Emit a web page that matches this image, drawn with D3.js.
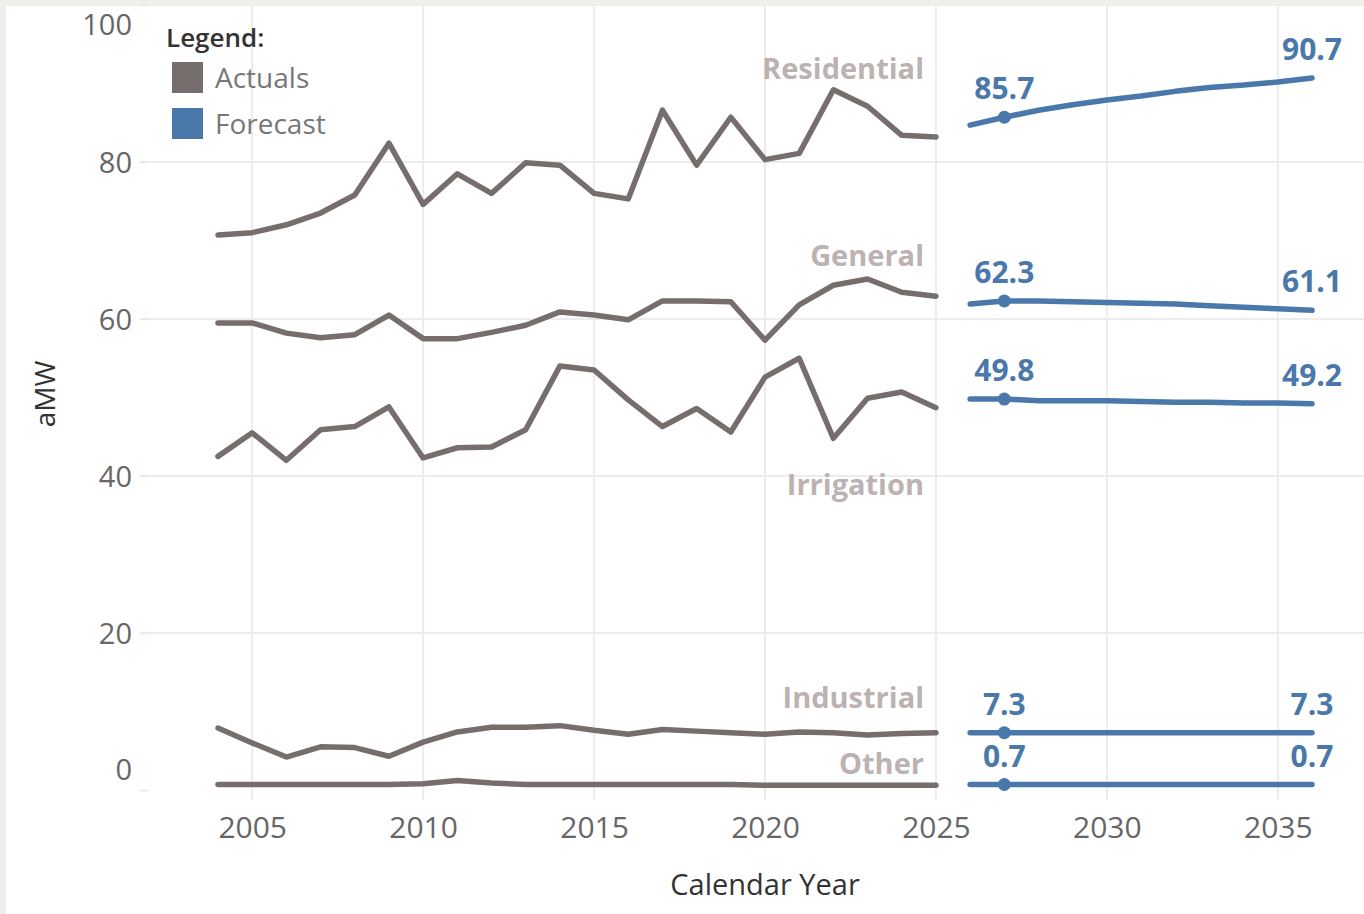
<!DOCTYPE html>
<html>
<head>
<meta charset="utf-8">
<script src="https://cdn.jsdelivr.net/npm/d3@7/dist/d3.min.js"></script>
<style>
  html, body { margin: 0; padding: 0; background: #efefeb; }
  svg { display: block; }
  text { font-family: "Open Sans", "Noto Sans", sans-serif; }
</style>
</head>
<body>
<svg id="chart" width="1364" height="914"></svg>
<script>
// ---- data ----
const actualYears = [2004,2005,2006,2007,2008,2009,2010,2011,2012,2013,2014,2015,2016,2017,2018,2019,2020,2021,2022,2023,2024,2025];
const forecastYears = [2026,2027,2028,2029,2030,2031,2032,2033,2034,2035,2036];

const categories = ["Residential","General","Irrigation","Industrial","Other"];

const residentialActual = [70.7,71.0,72.0,73.5,75.8,82.4,74.6,78.5,76.0,79.9,79.6,76.0,75.3,86.6,79.6,85.7,80.3,81.1,89.2,87.1,83.4,83.2];
const generalActual     = [59.5,59.5,58.2,57.6,58.0,60.5,57.5,57.5,58.3,59.2,60.9,60.5,59.9,62.3,62.3,62.2,57.3,61.8,64.3,65.1,63.4,62.9];
const irrigationActual  = [42.5,45.5,42.0,45.9,46.3,48.8,42.3,43.6,43.7,45.9,54.0,53.5,49.7,46.3,48.6,45.6,52.6,55.0,44.8,49.9,50.7,48.7];
const industrialActual  = [7.9,6.0,4.2,5.5,5.4,4.3,6.1,7.4,8.0,8.0,8.2,7.6,7.1,7.7,7.5,7.3,7.1,7.4,7.3,7.0,7.2,7.3];
const otherActual       = [0.7,0.7,0.7,0.7,0.7,0.7,0.8,1.2,0.9,0.7,0.7,0.7,0.7,0.7,0.7,0.7,0.6,0.6,0.6,0.6,0.6,0.6];

const residentialForecast = [84.7,85.7,86.6,87.3,87.9,88.4,89.0,89.5,89.8,90.2,90.7];
const generalForecast     = [61.9,62.3,62.3,62.2,62.1,62.0,61.9,61.7,61.5,61.3,61.1];
const irrigationForecast  = [49.8,49.8,49.6,49.6,49.6,49.5,49.4,49.4,49.3,49.3,49.2];
const industrialForecast  = [7.3,7.3,7.3,7.3,7.3,7.3,7.3,7.3,7.3,7.3,7.3];
const otherForecast       = [0.7,0.7,0.7,0.7,0.7,0.7,0.7,0.7,0.7,0.7,0.7];

// where each category name label sits (value on the y axis)
const categoryLabelValue = [91.9, 68.0, 38.9, 11.8, 3.3];

const yTicks = [0,20,40,60,80,100];
const xTicks = [2005,2010,2015,2020,2025,2030,2035];
const labelYears = [2027, 2036];
const legendItems = ["Actuals","Forecast"];

// ---- build ----
const actualSeries = [residentialActual, generalActual, irrigationActual, industrialActual, otherActual];
const forecastSeries = [residentialForecast, generalForecast, irrigationForecast, industrialForecast, otherForecast];

const colActual = "#766e6c";
const colForecast = "#4a78aa";
const colGrid = "#ececec";

const svg = d3.select("#chart");
const W = 1364, H = 914;

svg.append("rect").attr("x",0).attr("y",0).attr("width",W).attr("height",H).attr("fill","#efefeb");
svg.append("rect").attr("x",6).attr("y",6).attr("width",W-6).attr("height",H-6).attr("fill","#ffffff");

const x = d3.scaleLinear().domain([2004, 2036]).range([218, 1312]);
const y = d3.scaleLinear().domain([0, 100]).range([790, 5]);

// vertical gridlines
svg.append("g").selectAll("line").data(xTicks).join("line")
  .attr("x1", d => x(d)).attr("x2", d => x(d))
  .attr("y1", 6).attr("y2", 800)
  .attr("stroke", colGrid).attr("stroke-width", 2);

// horizontal gridlines
svg.append("g").selectAll("line").data(yTicks.filter(d => d > 0 && d < 100)).join("line")
  .attr("x1", 140).attr("x2", W)
  .attr("y1", d => y(d)).attr("y2", d => y(d))
  .attr("stroke", colGrid).attr("stroke-width", 2);

// y axis
const yAxis = svg.append("g").attr("transform", "translate(148,0)")
  .call(d3.axisLeft(y).tickValues(yTicks).tickSize(8).tickPadding(8));
yAxis.select(".domain").remove();
yAxis.selectAll(".tick line").attr("stroke", "#e6e6e6").attr("stroke-width", 1.5);
yAxis.selectAll(".tick text")
  .attr("fill", "#666")
  .style("font-size", "29px")
  .attr("dy", d => d === 100 ? "1.0em" : d === 0 ? "-0.35em" : "0.35em");

// x axis
const xAxis = svg.append("g").attr("transform", "translate(0,800)")
  .call(d3.axisBottom(x).tickValues(xTicks).tickFormat(d3.format("d")).tickSize(0).tickPadding(17));
xAxis.select(".domain").remove();
xAxis.selectAll(".tick text").attr("fill", "#666").style("font-size", "30px");

// axis titles
svg.append("text").attr("x", 765).attr("y", 895).attr("text-anchor", "middle")
  .attr("fill", "#333").style("font-size", "29px").text("Calendar Year");
svg.append("text").attr("transform", "translate(55,394) rotate(-90)").attr("text-anchor", "middle")
  .attr("fill", "#333").style("font-size", "28px").text("aMW");

// lines
const line = d3.line().x(d => x(d[0])).y(d => y(d[1]));

actualSeries.forEach(vals => {
  svg.append("path")
    .datum(actualYears.map((yr, i) => [yr, vals[i]]))
    .attr("d", line).attr("fill", "none")
    .attr("stroke", colActual).attr("stroke-width", 5.5)
    .attr("stroke-linejoin", "round").attr("stroke-linecap", "round");
});

forecastSeries.forEach(vals => {
  const pts = forecastYears.map((yr, i) => [yr, vals[i]]);
  svg.append("path")
    .datum(pts)
    .attr("d", line).attr("fill", "none")
    .attr("stroke", colForecast).attr("stroke-width", 5.5)
    .attr("stroke-linejoin", "round").attr("stroke-linecap", "round");
  const p = pts[forecastYears.indexOf(2027)];
  svg.append("circle").attr("cx", x(p[0])).attr("cy", y(p[1])).attr("r", 6.5).attr("fill", colForecast);
  labelYears.forEach(ly => {
    const q = pts[forecastYears.indexOf(ly)];
    svg.append("text")
      .attr("x", x(q[0])).attr("y", y(q[1]) - 18)
      .attr("text-anchor", "middle")
      .attr("fill", colForecast).style("font-size", "30px").style("font-weight", "700")
      .text(q[1].toFixed(1));
  });
});

// category labels
categories.forEach((c, i) => {
  svg.append("text")
    .attr("x", 924).attr("y", y(categoryLabelValue[i]))
    .attr("dy", "0.35em")
    .attr("text-anchor", "end")
    .attr("fill", "#bcb2b2").style("font-size", "29px").style("font-weight", "700")
    .text(c);
});

// legend
svg.append("text").attr("x", 166).attr("y", 47).attr("fill", "#333")
  .style("font-size", "26px").style("font-weight", "600").text("Legend:");
legendItems.forEach((name, i) => {
  svg.append("rect").attr("x", 172).attr("y", 62 + i * 46).attr("width", 31).attr("height", 31)
    .attr("fill", i === 0 ? colActual : colForecast);
  svg.append("text").attr("x", 215).attr("y", 78 + i * 46).attr("dy", "0.35em")
    .attr("fill", "#777").style("font-size", "28px").text(name);
});
</script>
</body>
</html>
